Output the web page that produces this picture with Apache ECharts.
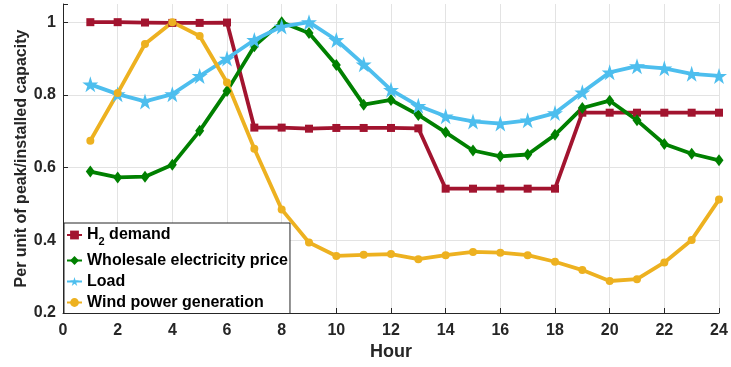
<!DOCTYPE html>
<html>
<head>
<meta charset="utf-8">
<script src="https://cdn.jsdelivr.net/npm/echarts@6/dist/echarts.min.js"></script>
<style>
html,body{margin:0;padding:0;background:#fff;}
#c{width:731px;height:367px;}
</style>
</head>
<body>
<div id="c"></div>
<script>
var hours = [1,2,3,4,5,6,7,8,9,10,11,12,13,14,15,16,17,18,19,20,21,22,23,24];
var h2Demand = [1.0,1.0,0.999,0.998,0.998,0.999,0.710,0.710,0.707,0.709,0.709,0.709,0.708,0.542,0.542,0.542,0.542,0.542,0.751,0.751,0.751,0.751,0.751,0.751];
var wholesalePrice = [0.589,0.573,0.575,0.608,0.701,0.811,0.934,1.0,0.970,0.882,0.773,0.786,0.745,0.697,0.647,0.631,0.636,0.690,0.764,0.784,0.730,0.665,0.638,0.620];
var load = [0.829,0.802,0.782,0.802,0.852,0.900,0.951,0.988,1.0,0.951,0.884,0.814,0.770,0.741,0.727,0.721,0.730,0.750,0.807,0.862,0.879,0.873,0.858,0.852];
var windGen = [0.674,0.805,0.940,1.0,0.962,0.834,0.652,0.485,0.394,0.357,0.360,0.362,0.348,0.359,0.368,0.366,0.359,0.341,0.318,0.288,0.293,0.339,0.401,0.512];
var seriesNames = ['H2 demand','Wholesale electricity price','Load','Wind power generation'];
var yTicks = [0.2,0.4,0.6,0.8,1];
var xTicks = [0,2,4,6,8,10,12,14,16,18,20,22,24];

function pairs(v){ return hours.map(function(h,i){ return [h, v[i]]; }); }
var star = 'path://M100,0 L122.45,69.1 L195.1,69.1 L136.3,111.8 L158.8,180.9 L100,138.2 L41.2,180.9 L63.7,111.8 L4.9,69.1 L77.55,69.1 Z';
var txt = '#262626';
var gridC = '#e3e3e3';
var none = 'rgba(255,255,255,0)';
var chart = echarts.init(document.getElementById('c'), null, {renderer:'canvas'});
function mk(name, data, color, symbol, size){
  return {name:name, type:'line', data:pairs(data), symbol:symbol, symbolSize:size,
    showSymbol:true, animation:false,
    lineStyle:{color:color, width:3.8}, itemStyle:{color:color, borderWidth:0}, emphasis:{disabled:true}};
}
chart.setOption({
  animation:false,
  grid:{left:63, right:12, top:4, bottom:54, containLabel:false},
  xAxis:{type:'value', min:0, max:24, interval:2,
    name:'Hour', nameLocation:'middle', nameGap:30, nameMoveOverlap:false,
    nameTextStyle:{fontFamily:'Liberation Sans', fontWeight:'bold', fontSize:18, color:txt},
    axisLine:{show:true, lineStyle:{color:txt, width:1}},
    axisTick:{show:true, inside:true, length:5, lineStyle:{color:txt}},
    axisLabel:{fontFamily:'Liberation Sans', fontWeight:'bold', fontSize:16, color:txt, margin:10,
      formatter:function(v){ return xTicks.indexOf(v) >= 0 ? String(v) : ''; }},
    splitLine:{show:true, lineStyle:{color:gridC, width:1}}
  },
  yAxis:{type:'value', min:0.2, max:1.05, interval:0.2,
    name:'Per unit of peak/installed capacity', nameLocation:'middle', nameGap:33, nameMoveOverlap:false,
    nameTextStyle:{fontFamily:'Liberation Sans', fontWeight:'bold', fontSize:16, color:txt},
    axisLine:{show:true, lineStyle:{color:txt, width:1}},
    axisTick:{show:true, inside:true, length:5, lineStyle:{color:[txt,txt,txt,txt,txt,none]}},
    axisLabel:{fontFamily:'Liberation Sans', fontWeight:'bold', fontSize:16, color:txt, margin:7,
      formatter:function(v){ var r = +(+v).toFixed(2); return yTicks.indexOf(r) >= 0 ? String(r) : ''; }},
    splitLine:{show:true, lineStyle:{color:[gridC,gridC,gridC,gridC,gridC,none], width:1}}
  },
  legend:{orient:'vertical', left:64, top:223, data:seriesNames,
    backgroundColor:'#fff', borderColor:txt, borderWidth:1, borderRadius:0,
    padding:[4,2,3,2], itemGap:5, itemWidth:15, itemHeight:11,
    textStyle:{fontFamily:'Liberation Sans', fontWeight:'bold', fontSize:16, color:'#000',
      rich:{n:{fontFamily:'Liberation Sans', fontWeight:'bold', fontSize:16, color:'#000'},
            s:{fontFamily:'Liberation Sans', fontWeight:'bold', fontSize:11, color:'#000', padding:[14,0,0,0]}}},
    formatter:function(name){ return name === 'H2 demand' ? '{n|H}{s|2}{n| demand}' : name; }
  },
  series:[
    mk(seriesNames[0], h2Demand, '#A2142F', 'rect', 8),
    mk(seriesNames[1], wholesalePrice, '#008000', 'diamond', [9,12]),
    mk(seriesNames[2], load, '#4DBEEE', star, 16),
    mk(seriesNames[3], windGen, '#EDB120', 'circle', 8)
  ]
});
</script>
</body>
</html>
